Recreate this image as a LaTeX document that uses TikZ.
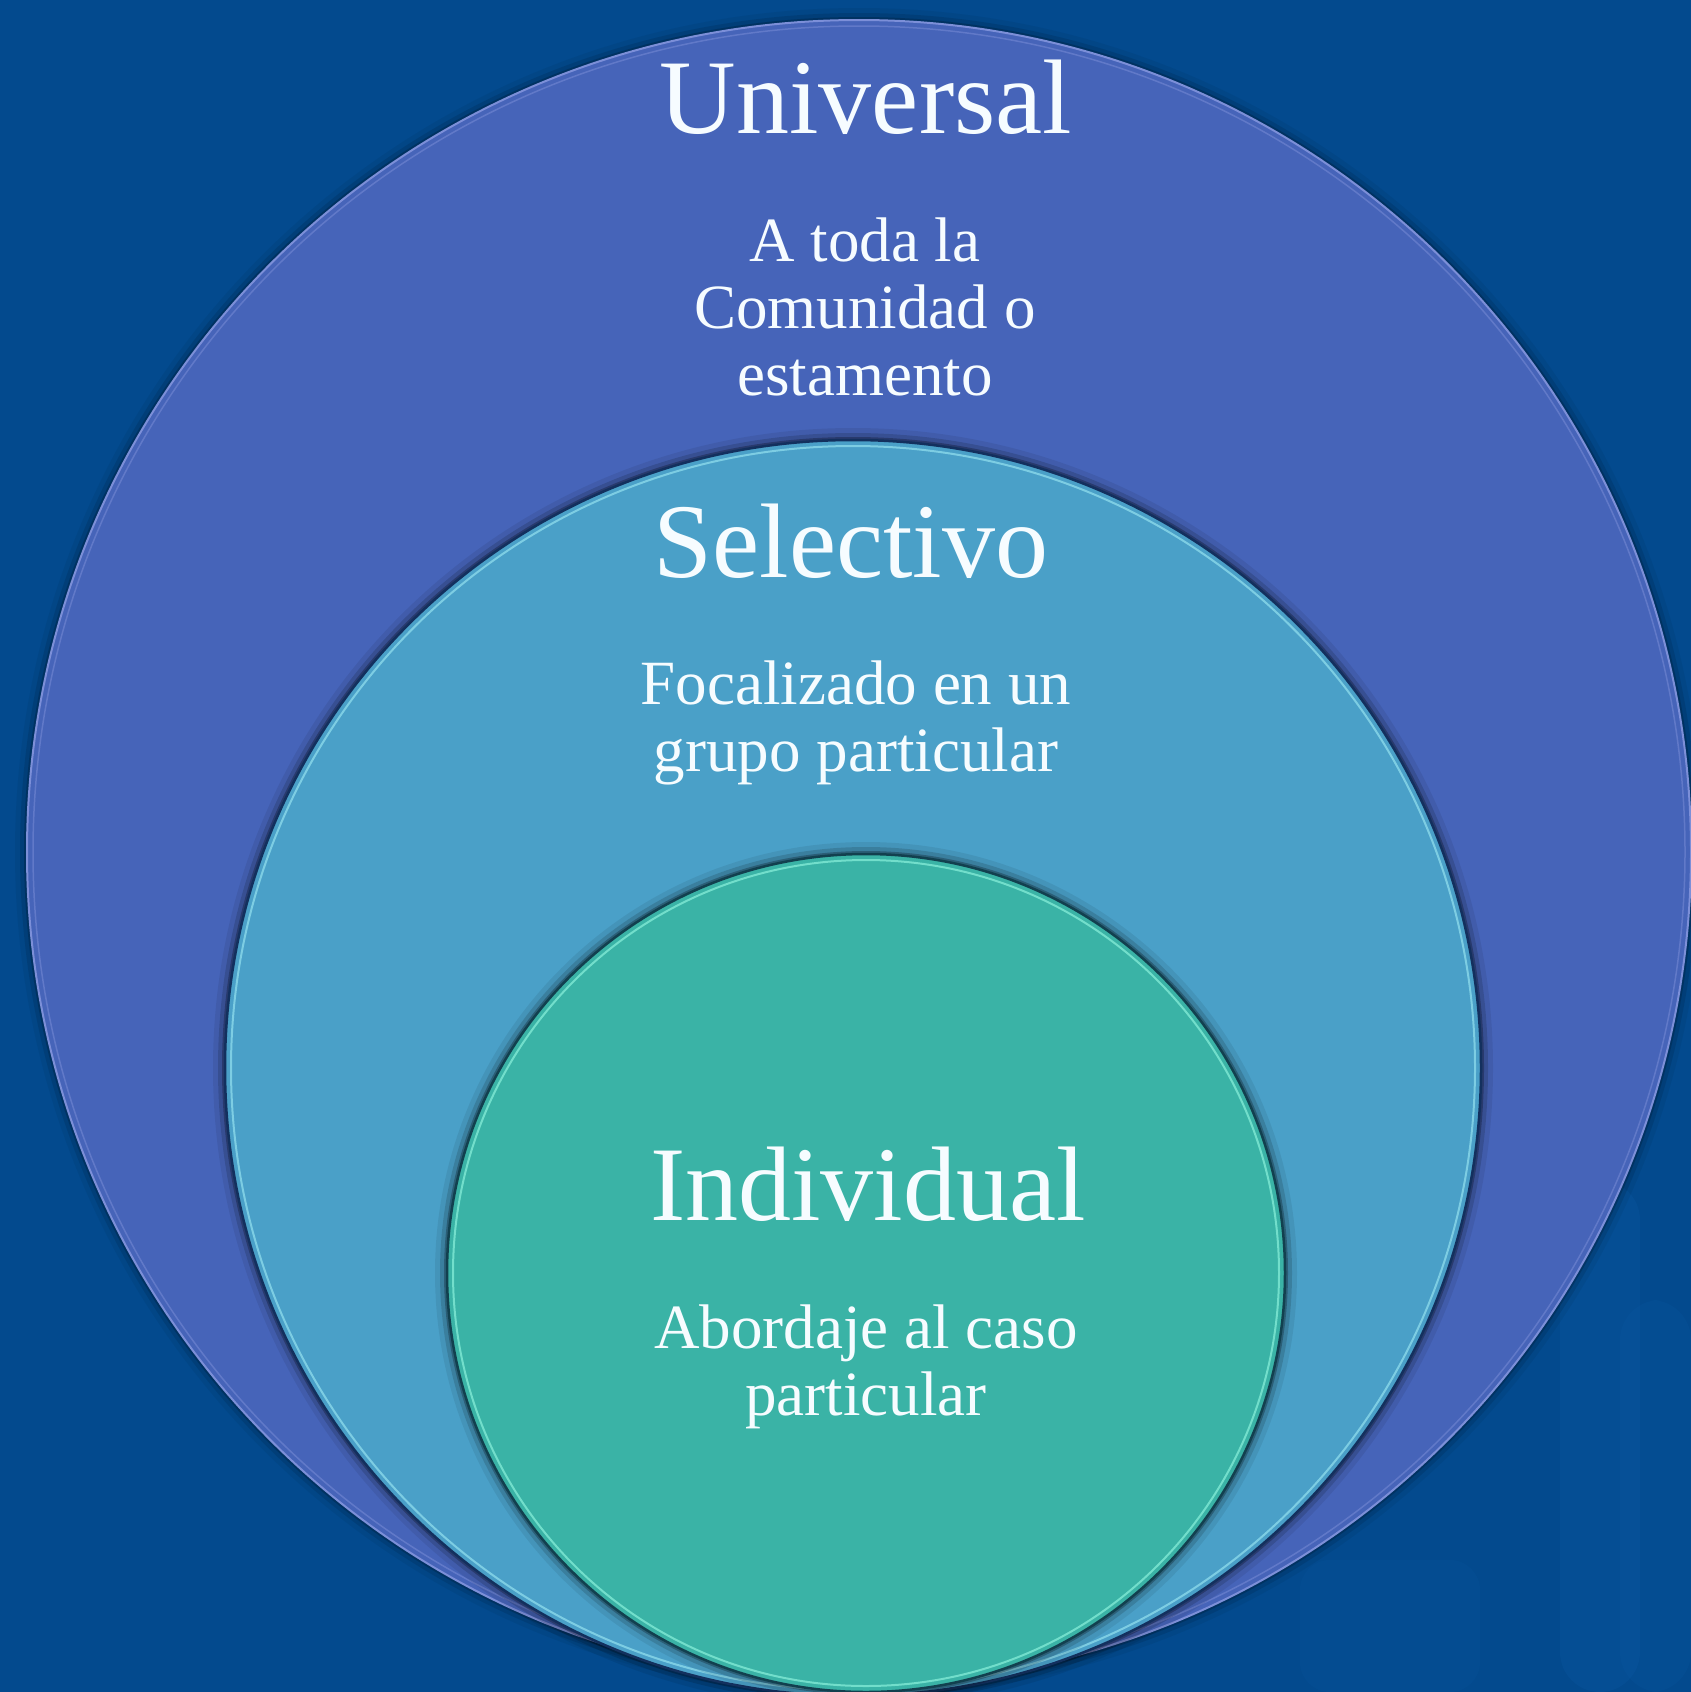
\documentclass[tikz,border=0pt]{standalone}
\usepackage{fontspec}
\setmainfont{Liberation Serif}
\definecolor{bg}{HTML}{034A8E}
\definecolor{bglight}{HTML}{0B5BA8}
\definecolor{ucol}{HTML}{4664B9}
\definecolor{uedge}{HTML}{7C8FD8}
\definecolor{scol}{HTML}{4AA0C8}
\definecolor{sedge}{HTML}{13305E}
\definecolor{slight}{HTML}{86D6E8}
\definecolor{icol}{HTML}{3AB3A6}
\definecolor{iedge}{HTML}{12404F}
\definecolor{ilight}{HTML}{7CE6D2}
\definecolor{txt}{HTML}{F6FCFF}
\tikzset{
  disc/.style={circle, inner sep=0pt, outer sep=0pt, minimum size=#1},
  titletext/.style={font=\fontsize{106}{110}\selectfont, text=txt, anchor=base, inner sep=0pt},
  bodytext/.style={font=\fontsize{63}{67}\selectfont, text=txt, anchor=base, align=center, inner sep=0pt},
}
\begin{document}
\begin{tikzpicture}[x=1pt,y=-1pt]
\clip (0,0) rectangle (1691,1692);
\fill[bg] (0,0) rectangle (1691,1692);
% faint background streaks
\fill[bglight, opacity=0.25, rounded corners=40pt] (1560,1180) rectangle (1640,1692);
\fill[bglight, opacity=0.18, rounded corners=40pt] (1620,1300) rectangle (1691,1692);
\fill[bglight, opacity=0.15, rounded corners=30pt] (1300,1560) rectangle (1480,1692);

\coordinate (cu) at (859,852);
\coordinate (cs) at (853,1068);
\coordinate (ci) at (866,1273);

% outer circle
\foreach \d/\o in {3/0.18,7/0.10,12/0.05}{\fill[black, opacity=\o] (cu) circle[radius=832pt+\d pt];}
\node[disc=1664pt, fill=ucol, draw=uedge, line width=2pt] (univ) at (cu) {};
\draw[uedge, opacity=0.5, line width=1.5pt] (cu) circle[radius=826pt];

% middle circle
\foreach \d/\o in {3/0.25,7/0.14,12/0.07}{\fill[black, opacity=\o] (cs) circle[radius=628pt+\d pt];}
\node[disc=1256pt, fill=scol, draw=sedge, line width=2.5pt] (selec) at (cs) {};
\draw[slight, line width=2pt, opacity=0.85] (cs) circle[radius=622pt];

% inner circle
\foreach \d/\o in {3/0.25,7/0.14,12/0.07}{\fill[black, opacity=\o] (ci) circle[radius=419pt+\d pt];}
\node[disc=838pt, fill=icol, draw=iedge, line width=2.5pt] (indiv) at (ci) {};
\draw[ilight, line width=2pt, opacity=0.85] (ci) circle[radius=413pt];

% texts (base anchor of a multi-line node = baseline of its last line)
\node[titletext] (tuniv) at (866,133) {Universal};
\node[bodytext] (duniv) at (865,395) {A toda la\\Comunidad o\\estamento};
\node[titletext] (tselec) at (851,577) {Selectivo};
\node[bodytext] (dselec) at (856,771) {Focalizado en un\\grupo particular};
\node[titletext] (tindiv) at (868,1220) {Individual};
\node[bodytext] (dindiv) at (866,1415) {Abordaje al caso\\particular};
\end{tikzpicture}
\end{document}
